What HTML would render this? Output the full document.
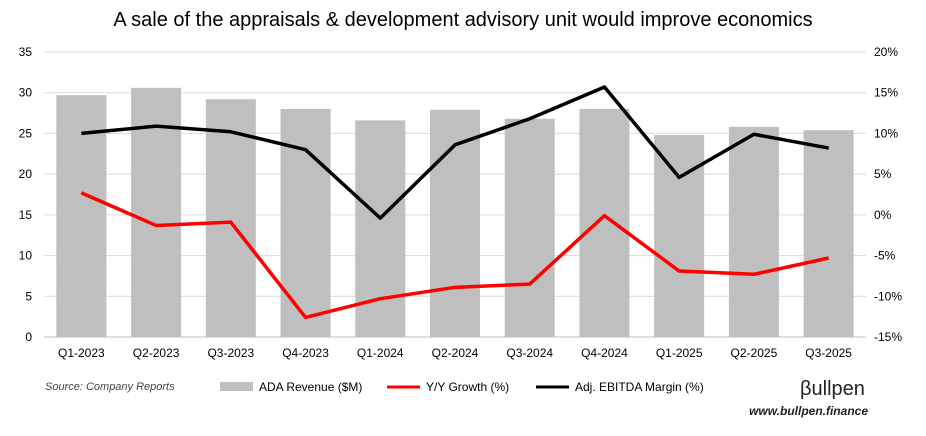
<!DOCTYPE html>
<html><head><meta charset="utf-8"><style>
body{margin:0;background:#fff;font-family:"Liberation Sans",sans-serif}
svg text{font-family:"Liberation Sans",sans-serif}
</style></head><body>
<svg id="chart" width="926" height="431" viewBox="0 0 926 431" xmlns="http://www.w3.org/2000/svg">
<text x="463" y="26" text-anchor="middle" font-size="20" fill="#000">A sale of the appraisals &amp; development advisory unit would improve economics</text>
<g id="grid"></g><g id="bars"></g><g id="lines"></g><g id="axes"></g>
<text x="45" y="390" font-size="11" font-style="italic" fill="#444">Source: Company Reports</text>
<g>
<rect x="220" y="382" width="33" height="9" fill="#bfbfbf"/>
<text x="259" y="391" font-size="12">ADA Revenue ($M)</text>
<line x1="387" y1="387" x2="420" y2="387" stroke="#ff0000" stroke-width="3"/>
<text x="426" y="391" font-size="12">Y/Y Growth (%)</text>
<line x1="536" y1="387" x2="569" y2="387" stroke="#000" stroke-width="3"/>
<text x="575" y="391" font-size="12">Adj. EBITDA Margin (%)</text>
</g>
<text x="800" y="395" font-size="20" fill="#222">βullpen</text>
<text x="868" y="415" text-anchor="end" font-size="12" font-style="italic" font-weight="bold" fill="#222">www.bullpen.finance</text>
</svg>
<script>
const categories=["Q1-2023","Q2-2023","Q3-2023","Q4-2023","Q1-2024","Q2-2024","Q3-2024","Q4-2024","Q1-2025","Q2-2025","Q3-2025"];
const revenue=[29.7,30.6,29.2,28.0,26.6,27.9,26.8,28.0,24.8,25.8,25.4];
const growth=[2.7,-1.3,-0.9,-12.6,-10.3,-8.9,-8.5,-0.1,-6.9,-7.3,-5.3];
const margin=[10.0,10.9,10.2,8.0,-0.4,8.6,11.8,15.7,4.6,9.9,8.2];
const leftTicks=[0,5,10,15,20,25,30,35];
const rightTicks=[-15,-10,-5,0,5,10,15,20];
const NS="http://www.w3.org/2000/svg";
const L=44,R=866,T=52,B=337;
const step=(R-L)/categories.length;
const x=i=>L+step*(i+0.5);
const yL=v=>B-(v-0)/35*(B-T);
const yR=v=>B-(v+15)/35*(B-T);
function mk(tag,attrs,parent){const e=document.createElementNS(NS,tag);for(const k in attrs)e.setAttribute(k,attrs[k]);document.getElementById(parent).appendChild(e);return e;}
leftTicks.forEach(v=>{
 const g=mk("line",{x1:L,x2:R,y1:yL(v),y2:yL(v),stroke:"#d9d9d9","stroke-width":1},"grid");
 
 
 const t=mk("text",{x:L-12,y:yL(v)+4,"text-anchor":"end","font-size":12},"axes");t.textContent=v;
 
 
});
rightTicks.forEach(v=>{
 const t=mk("text",{x:R+8,y:yR(v)+4,"text-anchor":"start","font-size":12},"axes");t.textContent=v+"%";
 
 
});
revenue.forEach((v,i)=>{
 const r=mk("rect",{x:x(i)-25,y:yL(v),width:50,height:B-yL(v),fill:"#bfbfbf"},"bars");
 
 
});
categories.forEach((c,i)=>{
 const t=mk("text",{x:x(i),y:B+20,"text-anchor":"middle","font-size":12},"axes");t.textContent=c;
 
 
});
const ax=mk("line",{x1:L,x2:R,y1:B,y2:B,stroke:"#bfbfbf"},"axes");


const gl=mk("polyline",{points:growth.map((v,i)=>x(i)+","+yR(v)).join(" "),fill:"none",stroke:"#ff0000","stroke-width":3.5,"stroke-linejoin":"round"},"lines");


const ml=mk("polyline",{points:margin.map((v,i)=>x(i)+","+yR(v)).join(" "),fill:"none",stroke:"#000","stroke-width":3.5,"stroke-linejoin":"round"},"lines");


</script>
</body></html>
